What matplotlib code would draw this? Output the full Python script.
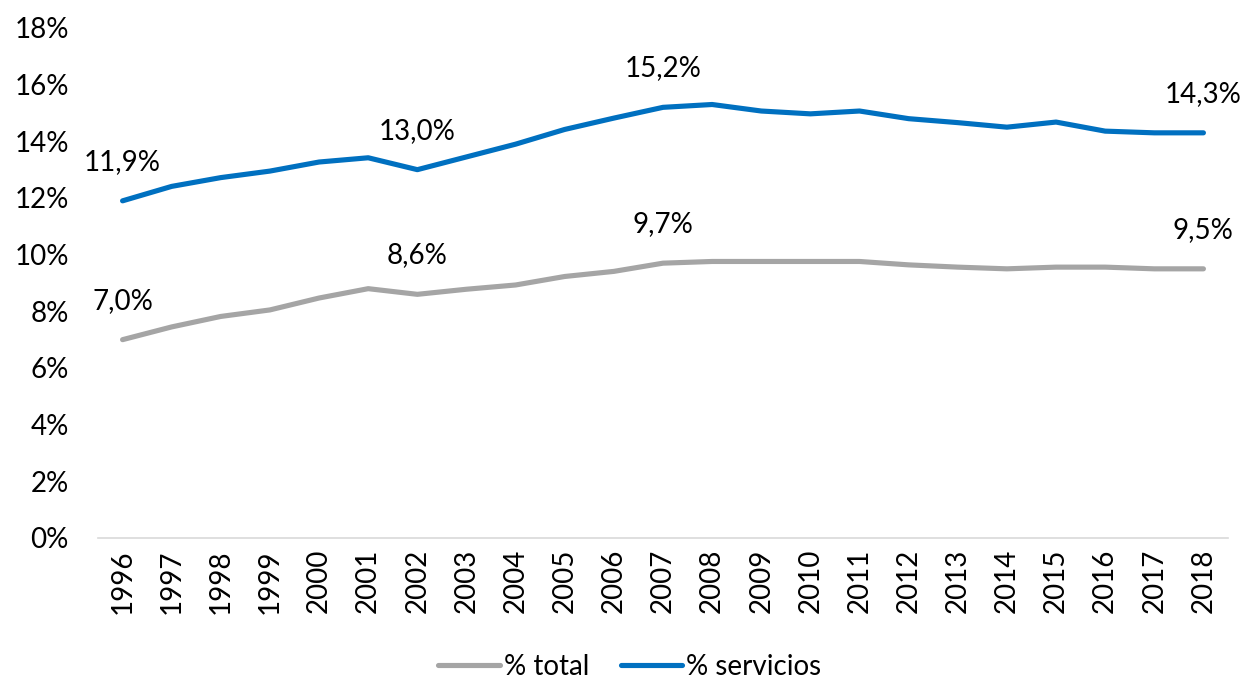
import matplotlib
matplotlib.use("Agg")
import matplotlib.pyplot as plt

years = [str(y) for y in range(1996, 2019)]
pct_total = [7.0, 7.45, 7.82, 8.05, 8.47, 8.8, 8.6, 8.78, 8.93, 9.23, 9.41, 9.7, 9.76,
             9.76, 9.76, 9.76, 9.64, 9.56, 9.5, 9.56, 9.56, 9.5, 9.5]
pct_servicios = [11.9, 12.41, 12.72, 12.95, 13.27, 13.42, 13.0, 13.45, 13.9, 14.42, 14.82,
                 15.2, 15.3, 15.07, 14.97, 15.07, 14.8, 14.66, 14.5, 14.68, 14.36, 14.3, 14.3]
labels_idx = [0, 6, 11, 22]
yticks = list(range(0, 19, 2))

GRAY = "#A5A5A5"
BLUE = "#0070C0"
FONT = "Lato"
FS = 20

plt.rcParams["font.family"] = [FONT, "DejaVu Sans"]

fig = plt.figure(figsize=(12.45, 6.81), dpi=100)
ax = fig.add_axes([98 / 1245, 1 - 538 / 681, (1228 - 98) / 1245, (538 - 28) / 681])

x = list(range(len(years)))
ax.plot(x, pct_total, color=GRAY, lw=3.7, solid_capstyle="round", label="% total")
ax.plot(x, pct_servicios, color=BLUE, lw=3.7, solid_capstyle="round", label="% servicios")

for i in labels_idx:
    for series in (pct_total, pct_servicios):
        ax.annotate(f"{series[i]:.1f}%".replace(".", ","), (x[i], series[i]),
                    xytext=(0, 28), textcoords="offset points",
                    ha="center", va="center", fontsize=FS, color="#000000")

ax.set_xlim(-0.5, len(years) - 0.5)
ax.set_ylim(0, 18)
ax.set_yticks(yticks)
ax.set_yticklabels([f"{v}%" for v in yticks], fontsize=FS)
ax.set_xticks(x)
ax.set_xticklabels(years, rotation=90, fontsize=FS)
ax.tick_params(axis="y", length=0, pad=21)
ax.tick_params(axis="x", length=0, pad=8)

for s in ("top", "right", "left"):
    ax.spines[s].set_visible(False)
ax.spines["bottom"].set_color("#D9D9D9")
ax.spines["bottom"].set_linewidth(1.2)

fig.legend(loc="center", bbox_to_anchor=(0.506, 1 - 667 / 681), ncol=2, frameon=False,
           fontsize=FS, handlelength=2.2, handletextpad=0.15, columnspacing=1.15)

fig.savefig("out.png", dpi=100)
